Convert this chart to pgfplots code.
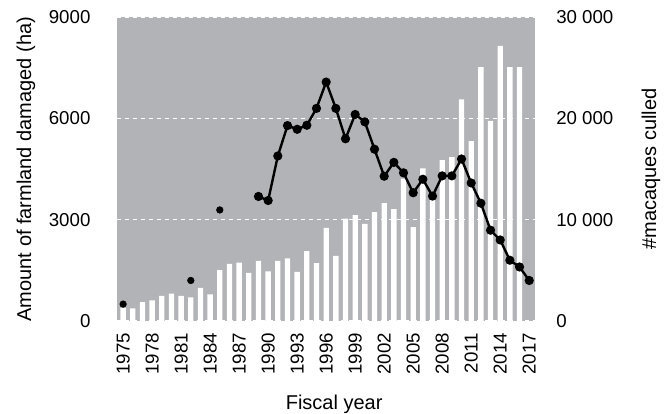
\documentclass[border=0pt]{standalone}
\usepackage{fontspec}
\setmainfont{Liberation Sans}
\usepackage{pgfplots}
\pgfplotsset{compat=1.18}
\definecolor{bg}{RGB}{178,179,183}

\pgfplotstableread{
year culled
1975 1300
1976 1250
1977 1870
1978 2040
1979 2470
1980 2700
1981 2470
1982 2340
1983 3260
1984 2630
1985 5030
1986 5630
1987 5760
1988 4740
1989 5940
1990 4900
1991 5940
1992 6190
1993 4850
1994 6900
1995 5720
1996 9190
1997 6440
1998 10100
1999 10460
2000 9600
2001 10760
2002 11650
2003 11060
2004 14050
2005 9280
2006 15070
2007 12000
2008 15880
2009 16190
2010 21880
2011 17770
2012 25070
2013 19770
2014 27170
2015 25070
2016 25070
}\culled

\pgfplotstableread{
year ha
1989 3690
1990 3570
1991 4890
1992 5790
1993 5680
1994 5800
1995 6300
1996 7080
1997 6300
1998 5400
1999 6120
2000 5900
2001 5090
2002 4290
2003 4700
2004 4390
2005 3800
2006 4200
2007 3700
2008 4300
2009 4300
2010 4800
2011 4090
2012 3490
2013 2690
2014 2400
2015 1800
2016 1600
2017 1200
}\damage

\pgfplotsset{
  base/.style={
    at={(0,0)}, anchor=south west,
    scale only axis, width=313.3pt, height=227.8pt,
    xmin=1974.4, xmax=2017.6, ymin=0,
    scaled y ticks=false,
    axis line style={draw=none},
    major tick length=0pt,
    tick label style={font=\fontsize{14}{16}\selectfont},
    label style={font=\fontsize{15}{17}\selectfont},
  }
}

\begin{document}
\begin{tikzpicture}
\path[use as bounding box] (-88pt,-69.75pt) rectangle (410.8pt,240.75pt);

% bars: macaques culled (right axis)
\begin{axis}[base,
    ymax=30000,
    axis background/.style={fill=bg},
    ytick={0,10000,20000,30000},
    yticklabels={0,10 000,20 000,30 000},
    yticklabel pos=right,
    yticklabel style={anchor=west, inner sep=0pt},
    yticklabel shift=15.75pt,
    ymajorgrids=true,
    grid style={white, dashed, line width=0.8pt},
    xtick={1975,1978,...,2017},
    xticklabels={1975,1978,1981,1984,1987,1990,1993,1996,1999,2002,2005,2008,2011,2014,2017},
    xticklabel style={rotate=90, anchor=east, inner sep=0pt},
    xticklabel shift=9pt,
    xlabel={Fiscal year},
    xlabel style={at={([xshift=6pt,yshift=-66.75pt]axis description cs:0.5,0)}, anchor=base},
    ylabel={\#macaques culled},
    ylabel style={at={([xshift=87pt]axis description cs:1,0.5)}, anchor=center, rotate=0},
  ]
  \addplot[ybar, bar width=4pt, draw=none, fill=white] table[x=year, y=culled] {\culled};
\end{axis}

% line: farmland damaged (left axis)
\begin{axis}[base,
    ymax=9000,
    hide x axis,
    ytick={0,3000,6000,9000},
    yticklabels={0,3000,6000,9000},
    yticklabel style={anchor=east, inner sep=0pt},
    yticklabel shift=20pt,
    ylabel={Amount of farmland damaged (ha)},
    ylabel style={at={([xshift=-68.5pt]axis description cs:0,0.5)}, anchor=center},
  ]
  \addplot[only marks, mark=*, mark size=2.5pt, black] coordinates {(1975,500) (1982,1200) (1985,3290)};
  \addplot[black, line width=1.8pt, mark=*, mark size=2.5pt] table[x=year, y=ha] {\damage};
\end{axis}
\end{tikzpicture}
\end{document}
